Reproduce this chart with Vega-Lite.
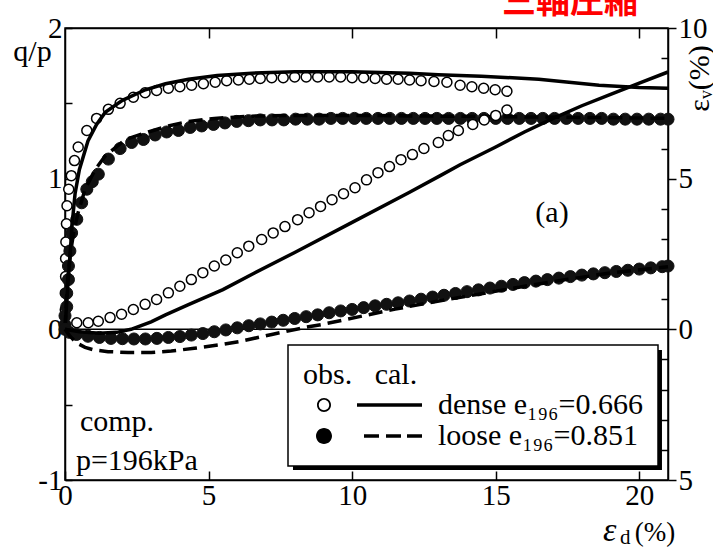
{
  "$schema": "https://vega.github.io/schema/vega-lite/v6.json",
  "width": 603,
  "height": 452,
  "autosize": {"type": "none"},
  "padding": {"left": 65, "top": 28, "right": 45, "bottom": 68},
  "background": "white",
  "config": {
    "font": "Liberation Serif",
    "view": {"stroke": "black", "strokeWidth": 1.5},
    "axis": {"domainColor": "black", "domainWidth": 1.5, "tickColor": "black", "tickWidth": 1.5, "labelColor": "black", "labelFont": "Liberation Serif", "labelFontSize": 29, "grid": false, "labelFlush": false, "labelOverlap": false},
    "legend": {"strokeWidth": 1.5, "labelFont": "Liberation Serif", "titleFont": "Liberation Serif"},
    "text": {"font": "Liberation Serif"}
  },
  "datasets": {
    "qpObs": [
      {"sample": "dense", "x": 0, "y": 0.03}, {"sample": "dense", "x": 0.01, "y": 0.13}, {"sample": "dense", "x": 0.01, "y": 0.24}, {"sample": "dense", "x": 0.02, "y": 0.35}, {"sample": "dense", "x": 0.02, "y": 0.47}, {"sample": "dense", "x": 0.03, "y": 0.58}, {"sample": "dense", "x": 0.05, "y": 0.7}, {"sample": "dense", "x": 0.07, "y": 0.82}, {"sample": "dense", "x": 0.13, "y": 0.93}, {"sample": "dense", "x": 0.22, "y": 1.02}, {"sample": "dense", "x": 0.33, "y": 1.12}, {"sample": "dense", "x": 0.46, "y": 1.21}, {"sample": "dense", "x": 0.76, "y": 1.32}, {"sample": "dense", "x": 1.1, "y": 1.4}, {"sample": "dense", "x": 1.51, "y": 1.46}, {"sample": "dense", "x": 1.92, "y": 1.5}, {"sample": "dense", "x": 2.38, "y": 1.54}, {"sample": "dense", "x": 2.79, "y": 1.57}, {"sample": "dense", "x": 3.19, "y": 1.585}, {"sample": "dense", "x": 3.6, "y": 1.6}, {"sample": "dense", "x": 4.0, "y": 1.61}, {"sample": "dense", "x": 4.41, "y": 1.62}, {"sample": "dense", "x": 4.82, "y": 1.63}, {"sample": "dense", "x": 5.23, "y": 1.64}, {"sample": "dense", "x": 5.63, "y": 1.65}, {"sample": "dense", "x": 6.04, "y": 1.655}, {"sample": "dense", "x": 6.42, "y": 1.66}, {"sample": "dense", "x": 6.8, "y": 1.665}, {"sample": "dense", "x": 7.2, "y": 1.67}, {"sample": "dense", "x": 7.6, "y": 1.67}, {"sample": "dense", "x": 8.0, "y": 1.675}, {"sample": "dense", "x": 8.4, "y": 1.675}, {"sample": "dense", "x": 8.8, "y": 1.675}, {"sample": "dense", "x": 9.2, "y": 1.675}, {"sample": "dense", "x": 9.6, "y": 1.675}, {"sample": "dense", "x": 10.0, "y": 1.67}, {"sample": "dense", "x": 10.4, "y": 1.67}, {"sample": "dense", "x": 10.8, "y": 1.665}, {"sample": "dense", "x": 11.2, "y": 1.66}, {"sample": "dense", "x": 11.6, "y": 1.66}, {"sample": "dense", "x": 12.0, "y": 1.655}, {"sample": "dense", "x": 12.4, "y": 1.65}, {"sample": "dense", "x": 12.85, "y": 1.645}, {"sample": "dense", "x": 13.3, "y": 1.64}, {"sample": "dense", "x": 13.76, "y": 1.62}, {"sample": "dense", "x": 14.17, "y": 1.61}, {"sample": "dense", "x": 14.58, "y": 1.6}, {"sample": "dense", "x": 14.98, "y": 1.59}, {"sample": "dense", "x": 15.39, "y": 1.58},
      {"sample": "loose", "x": 0, "y": 0.03}, {"sample": "loose", "x": 0, "y": 0.09}, {"sample": "loose", "x": 0.06, "y": 0.15}, {"sample": "loose", "x": 0.06, "y": 0.24}, {"sample": "loose", "x": 0.12, "y": 0.33}, {"sample": "loose", "x": 0.12, "y": 0.42}, {"sample": "loose", "x": 0.17, "y": 0.52}, {"sample": "loose", "x": 0.23, "y": 0.64}, {"sample": "loose", "x": 0.41, "y": 0.73}, {"sample": "loose", "x": 0.58, "y": 0.84}, {"sample": "loose", "x": 0.76, "y": 0.93}, {"sample": "loose", "x": 0.95, "y": 0.98}, {"sample": "loose", "x": 1.16, "y": 1.03}, {"sample": "loose", "x": 1.51, "y": 1.13}, {"sample": "loose", "x": 1.92, "y": 1.2}, {"sample": "loose", "x": 2.32, "y": 1.24}, {"sample": "loose", "x": 2.73, "y": 1.26}, {"sample": "loose", "x": 3.14, "y": 1.29}, {"sample": "loose", "x": 3.54, "y": 1.31}, {"sample": "loose", "x": 3.95, "y": 1.32}, {"sample": "loose", "x": 4.36, "y": 1.34}, {"sample": "loose", "x": 4.76, "y": 1.35}, {"sample": "loose", "x": 5.17, "y": 1.36}, {"sample": "loose", "x": 5.57, "y": 1.37}, {"sample": "loose", "x": 5.98, "y": 1.38}, {"sample": "loose", "x": 6.39, "y": 1.385}, {"sample": "loose", "x": 6.8, "y": 1.39}, {"sample": "loose", "x": 7.21, "y": 1.39}, {"sample": "loose", "x": 7.62, "y": 1.39}, {"sample": "loose", "x": 8.03, "y": 1.395}, {"sample": "loose", "x": 8.44, "y": 1.395}, {"sample": "loose", "x": 8.85, "y": 1.395}, {"sample": "loose", "x": 9.26, "y": 1.4}, {"sample": "loose", "x": 9.67, "y": 1.4}, {"sample": "loose", "x": 10.08, "y": 1.4}, {"sample": "loose", "x": 10.49, "y": 1.4}, {"sample": "loose", "x": 10.9, "y": 1.4}, {"sample": "loose", "x": 11.31, "y": 1.4}, {"sample": "loose", "x": 11.72, "y": 1.4}, {"sample": "loose", "x": 12.13, "y": 1.4}, {"sample": "loose", "x": 12.54, "y": 1.4}, {"sample": "loose", "x": 12.95, "y": 1.4}, {"sample": "loose", "x": 13.36, "y": 1.4}, {"sample": "loose", "x": 13.77, "y": 1.4}, {"sample": "loose", "x": 14.18, "y": 1.4}, {"sample": "loose", "x": 14.59, "y": 1.4}, {"sample": "loose", "x": 15.0, "y": 1.4}, {"sample": "loose", "x": 15.41, "y": 1.4}, {"sample": "loose", "x": 15.82, "y": 1.4}, {"sample": "loose", "x": 16.23, "y": 1.4}, {"sample": "loose", "x": 16.64, "y": 1.4}, {"sample": "loose", "x": 17.05, "y": 1.4}, {"sample": "loose", "x": 17.46, "y": 1.4}, {"sample": "loose", "x": 17.87, "y": 1.4}, {"sample": "loose", "x": 18.28, "y": 1.4}, {"sample": "loose", "x": 18.69, "y": 1.4}, {"sample": "loose", "x": 19.1, "y": 1.395}, {"sample": "loose", "x": 19.51, "y": 1.395}, {"sample": "loose", "x": 19.92, "y": 1.395}, {"sample": "loose", "x": 20.33, "y": 1.395}, {"sample": "loose", "x": 20.74, "y": 1.395}, {"sample": "loose", "x": 21.0, "y": 1.395}
    ],
    "qpCal": [
      {"sample": "dense", "x": 0, "y": 0}, {"sample": "dense", "x": 0.05, "y": 0.15}, {"sample": "dense", "x": 0.1, "y": 0.3}, {"sample": "dense", "x": 0.17, "y": 0.48}, {"sample": "dense", "x": 0.25, "y": 0.7}, {"sample": "dense", "x": 0.35, "y": 0.9}, {"sample": "dense", "x": 0.5, "y": 1.06}, {"sample": "dense", "x": 0.8, "y": 1.25}, {"sample": "dense", "x": 1.1, "y": 1.36}, {"sample": "dense", "x": 1.4, "y": 1.44}, {"sample": "dense", "x": 2, "y": 1.52}, {"sample": "dense", "x": 2.8, "y": 1.59}, {"sample": "dense", "x": 3.5, "y": 1.63}, {"sample": "dense", "x": 4.3, "y": 1.66}, {"sample": "dense", "x": 5.3, "y": 1.685}, {"sample": "dense", "x": 6.5, "y": 1.7}, {"sample": "dense", "x": 8, "y": 1.71}, {"sample": "dense", "x": 10, "y": 1.71}, {"sample": "dense", "x": 12, "y": 1.7}, {"sample": "dense", "x": 13, "y": 1.69}, {"sample": "dense", "x": 14.5, "y": 1.68}, {"sample": "dense", "x": 16.5, "y": 1.66}, {"sample": "dense", "x": 18.6, "y": 1.62}, {"sample": "dense", "x": 20, "y": 1.605}, {"sample": "dense", "x": 21, "y": 1.6},
      {"sample": "loose", "x": 0, "y": 0}, {"sample": "loose", "x": 0.05, "y": 0.2}, {"sample": "loose", "x": 0.1, "y": 0.35}, {"sample": "loose", "x": 0.2, "y": 0.52}, {"sample": "loose", "x": 0.3, "y": 0.64}, {"sample": "loose", "x": 0.45, "y": 0.77}, {"sample": "loose", "x": 0.7, "y": 0.93}, {"sample": "loose", "x": 1.05, "y": 1.06}, {"sample": "loose", "x": 1.4, "y": 1.15}, {"sample": "loose", "x": 2.1, "y": 1.26}, {"sample": "loose", "x": 2.9, "y": 1.31}, {"sample": "loose", "x": 3.6, "y": 1.35}, {"sample": "loose", "x": 4.3, "y": 1.38}, {"sample": "loose", "x": 5.2, "y": 1.4}, {"sample": "loose", "x": 6.5, "y": 1.415}, {"sample": "loose", "x": 8, "y": 1.42}, {"sample": "loose", "x": 10, "y": 1.42}, {"sample": "loose", "x": 13, "y": 1.415}, {"sample": "loose", "x": 16, "y": 1.41}, {"sample": "loose", "x": 19, "y": 1.405}, {"sample": "loose", "x": 21, "y": 1.4}
    ],
    "evObs": [
      {"sample": "dense", "x": 0, "y": 0}, {"sample": "dense", "x": 0.41, "y": 0.22}, {"sample": "dense", "x": 0.81, "y": 0.22}, {"sample": "dense", "x": 1.16, "y": 0.27}, {"sample": "dense", "x": 1.57, "y": 0.39}, {"sample": "dense", "x": 1.97, "y": 0.5}, {"sample": "dense", "x": 2.38, "y": 0.66}, {"sample": "dense", "x": 2.79, "y": 0.83}, {"sample": "dense", "x": 3.19, "y": 0.99}, {"sample": "dense", "x": 3.6, "y": 1.21}, {"sample": "dense", "x": 4.0, "y": 1.43}, {"sample": "dense", "x": 4.4, "y": 1.65}, {"sample": "dense", "x": 4.8, "y": 1.88}, {"sample": "dense", "x": 5.2, "y": 2.1}, {"sample": "dense", "x": 5.6, "y": 2.3}, {"sample": "dense", "x": 6.0, "y": 2.54}, {"sample": "dense", "x": 6.4, "y": 2.76}, {"sample": "dense", "x": 6.85, "y": 2.98}, {"sample": "dense", "x": 7.25, "y": 3.2}, {"sample": "dense", "x": 7.66, "y": 3.41}, {"sample": "dense", "x": 8.1, "y": 3.64}, {"sample": "dense", "x": 8.5, "y": 3.87}, {"sample": "dense", "x": 8.9, "y": 4.08}, {"sample": "dense", "x": 9.3, "y": 4.3}, {"sample": "dense", "x": 9.7, "y": 4.5}, {"sample": "dense", "x": 10.1, "y": 4.7}, {"sample": "dense", "x": 10.5, "y": 4.96}, {"sample": "dense", "x": 10.9, "y": 5.2}, {"sample": "dense", "x": 11.3, "y": 5.4}, {"sample": "dense", "x": 11.7, "y": 5.63}, {"sample": "dense", "x": 12.1, "y": 5.8}, {"sample": "dense", "x": 12.5, "y": 6.0}, {"sample": "dense", "x": 13.0, "y": 6.2}, {"sample": "dense", "x": 13.35, "y": 6.43}, {"sample": "dense", "x": 13.7, "y": 6.6}, {"sample": "dense", "x": 14.2, "y": 6.8}, {"sample": "dense", "x": 14.6, "y": 6.95}, {"sample": "dense", "x": 15.0, "y": 7.1}, {"sample": "dense", "x": 15.39, "y": 7.28},
      {"sample": "loose", "x": 0, "y": 0}, {"sample": "loose", "x": 0.15, "y": -0.1}, {"sample": "loose", "x": 0.4, "y": -0.17}, {"sample": "loose", "x": 0.8, "y": -0.23}, {"sample": "loose", "x": 1.2, "y": -0.27}, {"sample": "loose", "x": 1.6, "y": -0.3}, {"sample": "loose", "x": 2.0, "y": -0.31}, {"sample": "loose", "x": 2.4, "y": -0.32}, {"sample": "loose", "x": 2.8, "y": -0.32}, {"sample": "loose", "x": 3.2, "y": -0.3}, {"sample": "loose", "x": 3.6, "y": -0.27}, {"sample": "loose", "x": 4.0, "y": -0.24}, {"sample": "loose", "x": 4.4, "y": -0.19}, {"sample": "loose", "x": 4.8, "y": -0.14}, {"sample": "loose", "x": 5.2, "y": -0.08}, {"sample": "loose", "x": 5.6, "y": -0.02}, {"sample": "loose", "x": 6.0, "y": 0.05}, {"sample": "loose", "x": 6.4, "y": 0.12}, {"sample": "loose", "x": 6.8, "y": 0.18}, {"sample": "loose", "x": 7.2, "y": 0.24}, {"sample": "loose", "x": 7.6, "y": 0.3}, {"sample": "loose", "x": 8.0, "y": 0.36}, {"sample": "loose", "x": 8.4, "y": 0.42}, {"sample": "loose", "x": 8.8, "y": 0.48}, {"sample": "loose", "x": 9.2, "y": 0.55}, {"sample": "loose", "x": 9.6, "y": 0.61}, {"sample": "loose", "x": 10.0, "y": 0.66}, {"sample": "loose", "x": 10.4, "y": 0.72}, {"sample": "loose", "x": 10.8, "y": 0.78}, {"sample": "loose", "x": 11.2, "y": 0.83}, {"sample": "loose", "x": 11.6, "y": 0.88}, {"sample": "loose", "x": 12.0, "y": 0.94}, {"sample": "loose", "x": 12.4, "y": 1.0}, {"sample": "loose", "x": 12.8, "y": 1.07}, {"sample": "loose", "x": 13.2, "y": 1.13}, {"sample": "loose", "x": 13.6, "y": 1.19}, {"sample": "loose", "x": 14.0, "y": 1.25}, {"sample": "loose", "x": 14.4, "y": 1.31}, {"sample": "loose", "x": 14.8, "y": 1.37}, {"sample": "loose", "x": 15.2, "y": 1.43}, {"sample": "loose", "x": 15.6, "y": 1.49}, {"sample": "loose", "x": 16.0, "y": 1.55}, {"sample": "loose", "x": 16.4, "y": 1.6}, {"sample": "loose", "x": 16.8, "y": 1.65}, {"sample": "loose", "x": 17.2, "y": 1.7}, {"sample": "loose", "x": 17.6, "y": 1.75}, {"sample": "loose", "x": 18.0, "y": 1.8}, {"sample": "loose", "x": 18.4, "y": 1.84}, {"sample": "loose", "x": 18.8, "y": 1.88}, {"sample": "loose", "x": 19.2, "y": 1.92}, {"sample": "loose", "x": 19.6, "y": 1.96}, {"sample": "loose", "x": 20.0, "y": 2.0}, {"sample": "loose", "x": 20.4, "y": 2.04}, {"sample": "loose", "x": 20.8, "y": 2.08}, {"sample": "loose", "x": 21.0, "y": 2.1}
    ],
    "evCal": [
      {"sample": "dense", "x": 0, "y": 0}, {"sample": "dense", "x": 0.5, "y": -0.08}, {"sample": "dense", "x": 1.2, "y": -0.13}, {"sample": "dense", "x": 1.8, "y": -0.1}, {"sample": "dense", "x": 2.3, "y": 0}, {"sample": "dense", "x": 3, "y": 0.25}, {"sample": "dense", "x": 3.5, "y": 0.48}, {"sample": "dense", "x": 4.3, "y": 0.82}, {"sample": "dense", "x": 5.5, "y": 1.32}, {"sample": "dense", "x": 6.6, "y": 1.87}, {"sample": "dense", "x": 8, "y": 2.55}, {"sample": "dense", "x": 10, "y": 3.55}, {"sample": "dense", "x": 12, "y": 4.55}, {"sample": "dense", "x": 13.07, "y": 5.1}, {"sample": "dense", "x": 13.76, "y": 5.46}, {"sample": "dense", "x": 15, "y": 6.05}, {"sample": "dense", "x": 16, "y": 6.55}, {"sample": "dense", "x": 17, "y": 7.0}, {"sample": "dense", "x": 18, "y": 7.42}, {"sample": "dense", "x": 19, "y": 7.8}, {"sample": "dense", "x": 20, "y": 8.17}, {"sample": "dense", "x": 21, "y": 8.54},
      {"sample": "loose", "x": 0, "y": 0}, {"sample": "loose", "x": 0.15, "y": -0.2}, {"sample": "loose", "x": 0.3, "y": -0.35}, {"sample": "loose", "x": 0.5, "y": -0.5}, {"sample": "loose", "x": 0.7, "y": -0.6}, {"sample": "loose", "x": 1.0, "y": -0.68}, {"sample": "loose", "x": 1.5, "y": -0.74}, {"sample": "loose", "x": 2.2, "y": -0.77}, {"sample": "loose", "x": 3.0, "y": -0.77}, {"sample": "loose", "x": 3.7, "y": -0.72}, {"sample": "loose", "x": 4.5, "y": -0.63}, {"sample": "loose", "x": 5.5, "y": -0.5}, {"sample": "loose", "x": 6.1, "y": -0.4}, {"sample": "loose", "x": 7.2, "y": -0.17}, {"sample": "loose", "x": 8.4, "y": 0.07}, {"sample": "loose", "x": 9.0, "y": 0.17}, {"sample": "loose", "x": 10.5, "y": 0.47}, {"sample": "loose", "x": 11.5, "y": 0.67}, {"sample": "loose", "x": 13.07, "y": 0.95}, {"sample": "loose", "x": 14.5, "y": 1.18}, {"sample": "loose", "x": 16, "y": 1.43}, {"sample": "loose", "x": 17.5, "y": 1.66}, {"sample": "loose", "x": 19, "y": 1.87}, {"sample": "loose", "x": 21, "y": 2.08}
    ]
  },
  "layer": [
    {
      "data": {"values": [{}]},
      "mark": {"type": "rule", "color": "black", "strokeWidth": 1.5},
      "encoding": {"y": {"datum": 0, "type": "quantitative", "scale": {"domain": [-1, 2], "nice": false}, "axis": null}}
    },
    {
      "data": {"name": "qpObs"},
      "transform": [{"filter": "datum.sample == 'dense'"}],
      "mark": {"type": "point", "shape": "circle", "filled": false, "fill": "white", "fillOpacity": 1, "stroke": "black", "strokeWidth": 1.5, "size": 100, "opacity": 1},
      "encoding": {
        "x": {"field": "x", "type": "quantitative", "scale": {"domain": [0, 21], "nice": false}, "axis": {"orient": "bottom", "values": [0, 5, 10, 15, 20], "tickSize": -9, "labelPadding": 10, "title": null}},
        "y": {"field": "y", "type": "quantitative", "scale": {"domain": [-1, 2], "nice": false}, "axis": {"orient": "left", "values": [-1, -0.5, 0, 0.5, 1, 1.5, 2], "tickSize": -7, "labelPadding": 10, "labelExpr": "datum.value == 2 ? '2' : datum.value == 1 ? '1' : datum.value == 0 ? '0' : datum.value == -1 ? '-1' : ''", "title": "q/p", "titleAngle": 0, "titleX": -33, "titleY": 32, "titleFont": "Liberation Serif", "titleFontSize": 30, "titleFontWeight": "normal", "titleColor": "black", "titleAlign": "center", "titleBaseline": "alphabetic"}}
      }
    },
    {
      "data": {"name": "qpObs"},
      "transform": [{"filter": "datum.sample == 'loose'"}],
      "mark": {"type": "point", "shape": "circle", "filled": true, "color": "#111", "stroke": "#111", "strokeWidth": 1, "size": 145, "opacity": 1},
      "encoding": {
        "x": {"field": "x", "type": "quantitative", "scale": {"domain": [0, 21], "nice": false}, "axis": {"orient": "top", "values": [5, 10, 15, 20], "tickSize": -10, "labels": false, "title": null}},
        "y": {"field": "y", "type": "quantitative", "scale": {"domain": [-1, 2], "nice": false}, "axis": null}
      }
    },
    {
      "data": {"name": "qpCal"},
      "transform": [{"filter": "datum.sample == 'dense'"}],
      "mark": {"type": "line", "color": "black", "strokeWidth": 3.5},
      "encoding": {
        "x": {"field": "x", "type": "quantitative", "scale": {"domain": [0, 21], "nice": false}, "axis": null},
        "y": {"field": "y", "type": "quantitative", "scale": {"domain": [-1, 2], "nice": false}, "axis": null}
      }
    },
    {
      "data": {"name": "qpCal"},
      "transform": [{"filter": "datum.sample == 'loose'"}],
      "mark": {"type": "line", "color": "black", "strokeWidth": 3.5, "strokeDash": [14, 7]},
      "encoding": {
        "x": {"field": "x", "type": "quantitative", "scale": {"domain": [0, 21], "nice": false}, "axis": null},
        "y": {"field": "y", "type": "quantitative", "scale": {"domain": [-1, 2], "nice": false}, "axis": null}
      }
    },
    {
      "data": {"name": "evObs"},
      "transform": [{"filter": "datum.sample == 'dense'"}],
      "mark": {"type": "point", "shape": "circle", "filled": false, "fill": "white", "fillOpacity": 1, "stroke": "black", "strokeWidth": 1.5, "size": 100, "opacity": 1},
      "encoding": {
        "x": {"field": "x", "type": "quantitative", "scale": {"domain": [0, 21], "nice": false}, "axis": null},
        "y": {"field": "y", "type": "quantitative", "scale": {"domain": [-5, 10], "nice": false}, "axis": {"orient": "right", "values": [-5, 0, 5, 10], "tickSize": 8, "labelPadding": 2, "labelExpr": "datum.value == 10 ? '10' : datum.value == 0 ? '0' : '5'", "title": "εᵥ(%)", "titleAngle": 270, "titleX": 31, "titleY": 50, "titleFont": "Liberation Serif", "titleFontSize": 30, "titleFontWeight": "normal", "titleColor": "black", "titleAlign": "center", "titleBaseline": "middle"}}
      }
    },
    {
      "data": {"name": "evObs"},
      "transform": [{"filter": "datum.sample == 'loose'"}],
      "mark": {"type": "point", "shape": "circle", "filled": true, "color": "#111", "stroke": "#111", "strokeWidth": 1, "size": 145, "opacity": 1},
      "encoding": {
        "x": {"field": "x", "type": "quantitative", "scale": {"domain": [0, 21], "nice": false}, "axis": null},
        "y": {"field": "y", "type": "quantitative", "scale": {"domain": [-5, 10], "nice": false}, "axis": {"orient": "right", "values": [-4, -3, -2, -1, 1, 2, 3, 4, 6, 7, 8, 9], "tickSize": -7, "labels": false, "domain": false, "title": null}}
      }
    },
    {
      "data": {"name": "evCal"},
      "transform": [{"filter": "datum.sample == 'dense'"}],
      "mark": {"type": "line", "color": "black", "strokeWidth": 3.5},
      "encoding": {
        "x": {"field": "x", "type": "quantitative", "scale": {"domain": [0, 21], "nice": false}, "axis": null},
        "y": {"field": "y", "type": "quantitative", "scale": {"domain": [-5, 10], "nice": false}, "axis": null}
      }
    },
    {
      "data": {"name": "evCal"},
      "transform": [{"filter": "datum.sample == 'loose'"}],
      "mark": {"type": "line", "color": "black", "strokeWidth": 3.5, "strokeDash": [14, 7]},
      "encoding": {
        "x": {"field": "x", "type": "quantitative", "scale": {"domain": [0, 21], "nice": false}, "axis": null},
        "y": {"field": "y", "type": "quantitative", "scale": {"domain": [-5, 10], "nice": false}, "axis": null}
      }
    },
    {
      "data": {"values": [{}]},
      "mark": {"type": "rect", "color": "black"},
      "encoding": {
        "x": {"datum": 7.94, "type": "quantitative", "scale": {"domain": [0, 21], "nice": false}, "axis": null},
        "x2": {"datum": 20.79},
        "y": {"datum": -0.137, "type": "quantitative", "scale": {"domain": [-1, 2], "nice": false}, "axis": null},
        "y2": {"datum": -0.934}
      }
    },
    {
      "data": {"values": [{}]},
      "mark": {"type": "text", "text": "(a)", "font": "Liberation Serif", "fontSize": 30, "color": "black", "align": "center", "baseline": "middle"},
      "encoding": {"x": {"datum": 16.96, "type": "quantitative", "scale": {"domain": [0, 21], "nice": false}, "axis": null}, "y": {"datum": 0.772, "type": "quantitative", "scale": {"domain": [-1, 2], "nice": false}, "axis": null}}
    },
    {
      "data": {"values": [{}]},
      "mark": {"type": "text", "text": "comp.", "font": "Liberation Serif", "fontSize": 30, "color": "black", "align": "left", "baseline": "alphabetic"},
      "encoding": {"x": {"datum": 0.52, "type": "quantitative", "scale": {"domain": [0, 21], "nice": false}, "axis": null}, "y": {"datum": -0.675, "type": "quantitative", "scale": {"domain": [-1, 2], "nice": false}, "axis": null}}
    },
    {
      "data": {"values": [{}]},
      "mark": {"type": "text", "text": "p=196kPa", "font": "Liberation Serif", "fontSize": 30, "color": "black", "align": "left", "baseline": "alphabetic"},
      "encoding": {"x": {"datum": 0.38, "type": "quantitative", "scale": {"domain": [0, 21], "nice": false}, "axis": null}, "y": {"datum": -0.934, "type": "quantitative", "scale": {"domain": [-1, 2], "nice": false}, "axis": null}}
    },
    {
      "data": {"values": [{}]},
      "mark": {"type": "text", "text": "三軸圧縮", "font": "Noto Sans CJK JP", "fontWeight": "bold", "fontSize": 34, "color": "#ff0000", "align": "center", "baseline": "alphabetic"},
      "encoding": {"x": {"datum": 17.59, "type": "quantitative", "scale": {"domain": [0, 21], "nice": false}, "axis": null}, "y": {"datum": 2.1, "type": "quantitative", "scale": {"domain": [-1, 2], "nice": false}, "axis": null}}
    },
    {
      "data": {"values": [{}]},
      "mark": {"type": "text", "text": "ε", "font": "Liberation Serif", "fontStyle": "italic", "fontSize": 34, "color": "black", "align": "left", "baseline": "alphabetic"},
      "encoding": {"x": {"datum": 18.74, "type": "quantitative", "scale": {"domain": [0, 21], "nice": false}, "axis": null}, "y": {"datum": -1.405, "type": "quantitative", "scale": {"domain": [-1, 2], "nice": false}, "axis": null}}
    },
    {
      "data": {"values": [{}]},
      "mark": {"type": "text", "text": "d", "font": "Liberation Serif", "fontSize": 21, "color": "black", "align": "left", "baseline": "alphabetic"},
      "encoding": {"x": {"datum": 19.33, "type": "quantitative", "scale": {"domain": [0, 21], "nice": false}, "axis": null}, "y": {"datum": -1.425, "type": "quantitative", "scale": {"domain": [-1, 2], "nice": false}, "axis": null}}
    },
    {
      "data": {"values": [{}]},
      "mark": {"type": "text", "text": "(%)", "font": "Liberation Serif", "fontSize": 27, "color": "black", "align": "left", "baseline": "alphabetic"},
      "encoding": {"x": {"datum": 19.84, "type": "quantitative", "scale": {"domain": [0, 21], "nice": false}, "axis": null}, "y": {"datum": -1.405, "type": "quantitative", "scale": {"domain": [-1, 2], "nice": false}, "axis": null}}
    },
    {
      "data": {"name": "qpObs"},
      "transform": [{"filter": "false"}],
      "mark": {"type": "point", "filled": true, "color": "black", "opacity": 1, "size": 256},
      "encoding": {
        "shape": {
          "field": "sample", "type": "nominal",
          "scale": {"domain": ["dense", "loose"], "range": [
            "M 1.625 0 C 1.625 0.4833 1.2333 0.875 0.75 0.875 C 0.2667 0.875 -0.125 0.4833 -0.125 0 C -0.125 -0.4833 0.2667 -0.875 0.75 -0.875 C 1.2333 -0.875 1.625 -0.4833 1.625 0 Z M 1.4 0 C 1.4 -0.359 1.109 -0.65 0.75 -0.65 C 0.391 -0.65 0.1 -0.359 0.1 0 C 0.1 0.359 0.391 0.65 0.75 0.65 C 1.109 0.65 1.4 0.359 1.4 0 Z M 4.875 -0.2125 L 13 -0.2125 L 13 0.2125 L 4.875 0.2125 Z",
            "M 1.75 0 C 1.75 0.5523 1.3023 1 0.75 1 C 0.1977 1 -0.25 0.5523 -0.25 0 C -0.25 -0.5523 0.1977 -1 0.75 -1 C 1.3023 -1 1.75 -0.5523 1.75 0 Z M 5.75 -0.225 L 7.625 -0.225 L 7.625 0.225 L 5.75 0.225 Z M 8.5 -0.225 L 10.375 -0.225 L 10.375 0.225 L 8.5 0.225 Z M 11.125 -0.225 L 13 -0.225 L 13 0.225 L 11.125 0.225 Z"
          ]},
          "legend": {
            "orient": "none", "legendX": 223, "legendY": 317, "zindex": 1,
            "title": "obs.\u00a0\u00a0\u00a0cal.",
            "titleFont": "Liberation Serif", "titleFontSize": 30, "titleFontWeight": "normal", "titleColor": "black", "titlePadding": 0,
            "labelFont": "Liberation Serif", "labelFontSize": 30, "labelColor": "black", "labelOffset": 105, "labelLimit": 400,
            "labelExpr": "datum.value == 'dense' ? 'dense e₁₉₆=0.666' : '\u00a0loose e₁₉₆=0.851'",
            "symbolSize": 256, "symbolFillColor": "black", "symbolStrokeWidth": 0, "symbolOpacity": 1,
            "rowPadding": 1, "padding": 15, "strokeColor": "black", "fillColor": "white"
          }
        }
      }
    }
  ],
  "resolve": {"scale": {"y": "independent"}, "axis": {"x": "independent", "y": "independent"}}
}
